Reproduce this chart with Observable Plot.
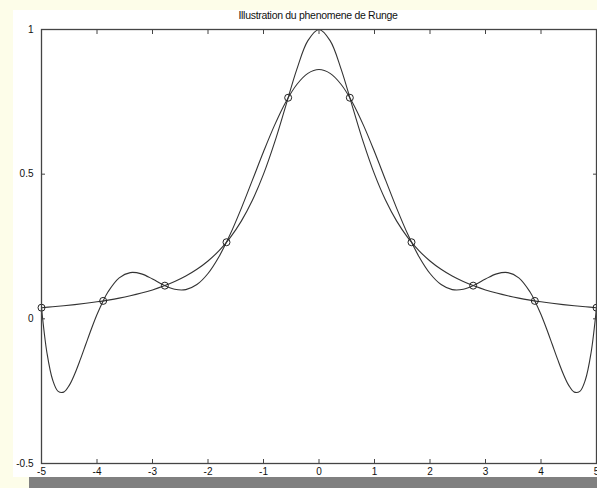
<!DOCTYPE html>
<html><head><meta charset="utf-8">
<script src="https://cdn.jsdelivr.net/npm/d3@7"></script>
<script src="https://cdn.jsdelivr.net/npm/@observablehq/plot@0.6"></script>
<style>
html,body{margin:0;padding:0;width:597px;height:488px;overflow:hidden;background:#fdfde9;}
#panel{position:absolute;left:13px;top:10px;width:584px;height:467px;background:#fff;}
#bar{position:absolute;left:29px;top:477px;width:568px;height:11px;background:#808080;}
#title{position:absolute;left:0;width:636px;top:9px;text-align:center;font:10.5px "Liberation Sans",Arial,sans-serif;color:#111;letter-spacing:-0.3px;}
#chart{position:absolute;left:0;top:0;}
</style></head><body>
<div id="panel"></div><div id="bar"></div>
<div id="title">Illustration du phenomene de Runge</div>
<div id="chart"></div>
<script>
// f(x) = 1/(1+x^2)
const xF = [-5,-4.8,-4.6,-4.4,-4.2,-4,-3.8,-3.6,-3.4,-3.2,-3,-2.8,-2.6,-2.4,-2.2,-2,-1.8,-1.6,-1.4,-1.2,-1,-0.8,-0.6,-0.4,-0.2,0,0.2,0.4,0.6,0.8,1,1.2,1.4,1.6,1.8,2,2.2,2.4,2.6,2.8,3,3.2,3.4,3.6,3.8,4,4.2,4.4,4.6,4.8,5];
const yF = [0.0385,0.0416,0.0451,0.0491,0.0536,0.0588,0.0648,0.0716,0.0796,0.0890,0.1,0.1131,0.1289,0.1479,0.1712,0.2,0.2358,0.2809,0.3378,0.4098,0.5,0.6098,0.7353,0.8621,0.9615,1,0.9615,0.8621,0.7353,0.6098,0.5,0.4098,0.3378,0.2809,0.2358,0.2,0.1712,0.1479,0.1289,0.1131,0.1,0.0890,0.0796,0.0716,0.0648,0.0588,0.0536,0.0491,0.0451,0.0416,0.0385];
// interpolating polynomial
const xP = [-5,-4.9,-4.8,-4.7,-4.6,-4.5,-4.4,-4.3,-4.2,-4.1,-4,-3.9,-3.8,-3.6,-3.4,-3.2,-3,-2.8,-2.6,-2.4,-2.2,-2,-1.8,-1.6,-1.4,-1.2,-1,-0.8,-0.6,-0.4,-0.2,0,0.2,0.4,0.6,0.8,1,1.2,1.4,1.6,1.8,2,2.2,2.4,2.6,2.8,3,3.2,3.4,3.6,3.8,3.9,4,4.1,4.2,4.3,4.4,4.5,4.6,4.7,4.8,4.9,5];
const yP = [0.0385,-0.1197,-0.2106,-0.2506,-0.2533,-0.2300,-0.1899,-0.1403,-0.0870,-0.0343,0.0147,0.0577,0.0934,0.1414,0.1598,0.1554,0.1377,0.1168,0.1021,0.1010,0.1184,0.1566,0.2154,0.2920,0.3819,0.4793,0.5774,0.6695,0.7488,0.8099,0.8484,0.8615,0.8484,0.8099,0.7488,0.6695,0.5774,0.4793,0.3819,0.2920,0.2154,0.1566,0.1184,0.1010,0.1021,0.1168,0.1377,0.1554,0.1598,0.1414,0.0934,0.0577,0.0147,-0.0343,-0.0870,-0.1403,-0.1899,-0.2300,-0.2533,-0.2506,-0.2106,-0.1197,0.0385];
// interpolation nodes
const xN = [-5,-3.8889,-2.7778,-1.6667,-0.5556,0.5556,1.6667,2.7778,3.8889,5];
const yN = [0.0385,0.0620,0.1147,0.2647,0.7642,0.7642,0.2647,0.1147,0.0620,0.0385];
const xTicks = [-5,-4,-3,-2,-1,0,1,2,3,4,5];
const yTicks = [-0.5,0,0.5,1];

const fData = xF.map((x,i)=>({x, y:yF[i]}));
const pData = xP.map((x,i)=>({x, y:yP[i]}));
const nData = xN.map((x,i)=>({x, y:yN[i]}));
const fmt = d => String(d).replace("−","-");
const col = "#333";

const chart = Plot.plot({
  width: 597, height: 488,
  marginLeft: 41, marginRight: 1, marginTop: 29, marginBottom: 25,
  style: {background: "transparent", fontFamily: "'Liberation Sans', Arial, sans-serif", fontSize: "10px", color: "#111"},
  x: {domain: [-5, 5], label: null},
  y: {domain: [-0.5, 1], label: null},
  marks: [
    Plot.axisX(xTicks, {anchor: "bottom", tickSize: -4, tickPadding: 8, tickFormat: fmt, stroke: "#444"}),
    Plot.axisX(xTicks, {anchor: "top", tickSize: -4, tickFormat: () => "", stroke: "#444"}),
    Plot.axisY(yTicks, {anchor: "left", tickSize: -4, tickPadding: 12, tickFormat: fmt, stroke: "#444"}),
    Plot.axisY(yTicks, {anchor: "right", tickSize: -4, tickFormat: () => "", stroke: "#444"}),
    Plot.line(fData, {x: "x", y: "y", stroke: col, strokeWidth: 1.1, curve: "catmull-rom"}),
    Plot.line(pData, {x: "x", y: "y", stroke: col, strokeWidth: 1.1, curve: "catmull-rom"}),
    Plot.dot(nData, {x: "x", y: "y", r: 3.5, stroke: "#222", strokeWidth: 1, fill: "none"}),
    Plot.frame({stroke: "#444", strokeWidth: 1.3})
  ]
});
document.getElementById("chart").appendChild(chart);
</script>
</body></html>
